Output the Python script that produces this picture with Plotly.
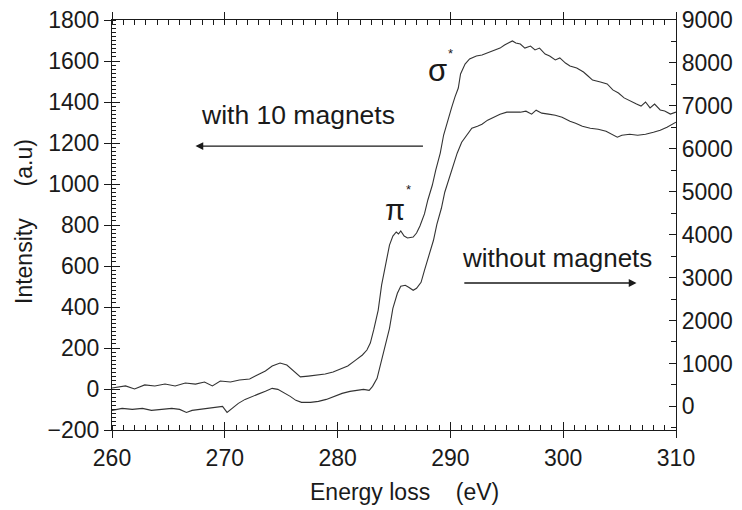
import plotly.graph_objects as go

# Upper curve: "with 10 magnets" (left axis)
e_mag = [260.0, 261.2, 262.0, 262.9, 263.8, 264.7, 265.6, 266.5, 267.4, 268.2, 268.9, 269.6, 270.5, 271.3,
         272.2, 272.9, 273.6, 274.2, 274.9, 275.5, 276.0, 276.7, 277.4, 278.1, 278.9, 279.6, 280.2, 280.9,
         281.6, 282.2, 282.6, 282.9, 283.2, 283.6, 283.9, 284.3, 284.6, 284.9, 285.2, 285.4, 285.6, 285.9,
         286.2, 286.7, 287.0, 287.3, 287.7, 288.0, 288.4, 288.7, 289.1, 289.4, 289.8, 290.1, 290.4, 290.7,
         290.9, 291.3, 291.7, 292.3, 292.8, 293.3, 293.9, 294.4, 294.8, 295.2, 295.5, 295.8, 296.2, 296.6,
         297.1, 297.5, 297.9, 298.4, 298.8, 299.3, 299.7, 300.2, 300.6, 301.2, 301.8, 302.2, 302.6, 303.3,
         303.9, 304.4, 304.9, 305.4, 305.9, 306.5, 306.9, 307.3, 307.7, 308.1, 308.6, 309.0, 309.5, 310.0]
i_mag = [5, 15, 0, 20, 15, 24, 15, 29, 24, 34, 15, 39, 34, 44,
         49, 68, 88, 112, 127, 117, 93, 59, 63, 68, 73, 83, 98, 112,
         141, 166, 190, 224, 288, 385, 507, 620, 702, 746, 766, 756, 771, 746,
         737, 741, 761, 795, 854, 922, 995, 1068, 1151, 1239, 1322, 1371, 1424, 1468,
         1537, 1585, 1610, 1624, 1629, 1639, 1654, 1663, 1678, 1688, 1698, 1688, 1683, 1663,
         1673, 1654, 1663, 1634, 1624, 1605, 1615, 1590, 1576, 1566, 1546, 1527, 1507, 1498,
         1488, 1459, 1444, 1420, 1405, 1390, 1380, 1400, 1371, 1390, 1361, 1356, 1341, 1351]

# Lower curve: "without magnets" (right axis)
e_nomag = [260.0, 260.9, 261.8, 262.7, 263.5, 264.4, 265.3, 266.0, 266.6, 267.1, 267.8, 268.5, 269.1, 269.8,
           270.2, 270.6, 271.2, 271.8, 272.4, 272.9, 273.6, 274.2, 274.7, 275.2, 275.8, 276.3, 276.8, 277.6,
           278.3, 279.0, 279.7, 280.4, 281.1, 281.8, 282.3, 282.8, 283.1, 283.5, 283.8, 284.2, 284.6, 284.9,
           285.3, 285.6, 286.0, 286.3, 286.7, 287.0, 287.4, 287.7, 288.1, 288.5, 288.8, 289.2, 289.5, 289.9,
           290.2, 290.6, 291.0, 291.5, 291.9, 292.4, 292.8, 293.3, 293.9, 294.4, 295.0, 295.6, 296.2, 296.7,
           297.2, 297.6, 298.1, 298.7, 299.3, 299.9, 300.6, 301.1, 301.7, 302.4, 303.1, 303.8, 304.3, 304.8,
           305.2, 305.9, 306.6, 307.3, 308.0, 308.6, 309.2, 310.0]
i_nomag = [-93, -47, -70, -47, -93, -70, -47, -70, -140, -93, -70, -47, -23, 0,
           -140, -47, 70, 163, 233, 280, 350, 420, 396, 326, 233, 140, 93, 93,
           117, 163, 233, 303, 350, 373, 396, 373, 466, 653, 979, 1352, 1818, 2284,
           2634, 2797, 2821, 2774, 2704, 2751, 2890, 3170, 3497, 3869, 4242, 4615, 4988, 5315,
           5618, 5898, 6154, 6340, 6480, 6527, 6573, 6667, 6737, 6807, 6853, 6853, 6853, 6876,
           6807, 6900, 6830, 6807, 6783, 6737, 6643, 6597, 6527, 6480, 6457, 6410, 6340, 6270,
           6317, 6340, 6317, 6340, 6387, 6433, 6503, 6620]

FONT = "Liberation Sans, Arial, sans-serif"
INK = "#1a1a1a"
TICK_SIZE = 23

fig = go.Figure()
fig.add_trace(go.Scatter(x=e_mag, y=i_mag, mode="lines", line=dict(color="#333", width=1.1),
                         xaxis="x", yaxis="y", showlegend=False, hoverinfo="skip"))
fig.add_trace(go.Scatter(x=e_nomag, y=i_nomag, mode="lines", line=dict(color="#333", width=1.1),
                         xaxis="x", yaxis="y2", showlegend=False, hoverinfo="skip"))
# dummy trace so inside-major-tick overlay axes get drawn
fig.add_trace(go.Scatter(x=[None], y=[None], xaxis="x2", yaxis="y3", showlegend=False, hoverinfo="skip"))

fig.update_layout(
    width=742, height=510,
    margin=dict(l=112, r=66, t=20, b=80),
    paper_bgcolor="white", plot_bgcolor="white",
    font=dict(family=FONT, size=TICK_SIZE, color=INK),
    xaxis=dict(range=[260, 310], dtick=10, tick0=260, ticks="outside", ticklen=7, tickwidth=1.2,
               tickcolor=INK, showline=True, linecolor=INK, linewidth=1.2, mirror="ticks",
               showgrid=False, zeroline=False, automargin=False,
               minor=dict(dtick=1, ticks="inside", ticklen=5, tickcolor=INK, tickwidth=1),
               tickfont=dict(size=TICK_SIZE)),
    xaxis2=dict(range=[260, 310], overlaying="x", anchor="y", dtick=10, tick0=260, ticks="inside",
                ticklen=8, tickwidth=1.2, tickcolor=INK, showticklabels=False, showline=False,
                showgrid=False, zeroline=False, automargin=False),
    yaxis=dict(range=[-200, 1800], dtick=200, tick0=0, ticks="outside", ticklen=7, tickwidth=1.2,
               tickcolor=INK, showline=True, linecolor=INK, linewidth=1.2, showgrid=False,
               zeroline=False, automargin=False,
               minor=dict(dtick=20, ticks="inside", ticklen=4, tickcolor=INK, tickwidth=1),
               tickfont=dict(size=TICK_SIZE)),
    yaxis3=dict(range=[-200, 1800], overlaying="y", side="left", anchor="x", dtick=200, tick0=0,
                ticks="inside", ticklen=8, tickwidth=1.2, tickcolor=INK, showticklabels=False,
                showline=False, showgrid=False, zeroline=False, automargin=False),
    yaxis2=dict(range=[-550, 9000], overlaying="y", side="right", anchor="x", dtick=1000, tick0=0,
                ticks="inside", ticklen=7, tickwidth=1.2, tickcolor=INK, showline=True,
                linecolor=INK, linewidth=1.2, showgrid=False, zeroline=False, automargin=False,
                minor=dict(dtick=500, ticks="inside", ticklen=5, tickcolor=INK, tickwidth=1),
                tickfont=dict(size=TICK_SIZE)),
)

# axis titles (placed as paper-anchored text)
fig.add_annotation(xref="paper", yref="paper", x=(405 - 112) / 564, y=-(492 - 430) / 410,
                   xanchor="center", yanchor="middle",
                   text="Energy loss    (eV)", showarrow=False, font=dict(size=23, family=FONT, color=INK))
fig.add_annotation(xref="paper", yref="paper", x=-(112 - 24) / 564, y=(430 - 222) / 410,
                   xanchor="center", yanchor="middle",
                   text="Intensity     (a.u)", textangle=-90, showarrow=False,
                   font=dict(size=23, family=FONT, color=INK))

ann = [
    dict(x=276.5, y=1337, text="with 10 magnets", size=26.5),
    dict(x=299.45, y=639, text="without magnets", size=26),
    dict(x=288.9, y=1556, text="σ", size=31),
    dict(x=290.05, y=1639, text="*", size=13),
    dict(x=285.1, y=873, text="π", size=29),
    dict(x=286.3, y=971, text="*", size=13),
]
for a in ann:
    fig.add_annotation(xref="x", yref="y", showarrow=False, x=a["x"], y=a["y"], text=a["text"],
                       font=dict(size=a["size"], family=FONT, color=INK))

# arrows
fig.add_annotation(xref="x", yref="y", axref="x", ayref="y", x=267.4, y=1185, ax=287.7, ay=1185,
                   text="", showarrow=True, arrowhead=2, arrowsize=1.2, arrowwidth=1.3, arrowcolor=INK)
fig.add_annotation(xref="x", yref="y", axref="x", ayref="y", x=306.5, y=517, ax=291.1, ay=517,
                   text="", showarrow=True, arrowhead=2, arrowsize=1.2, arrowwidth=1.3, arrowcolor=INK)

fig.write_html("out.html")
